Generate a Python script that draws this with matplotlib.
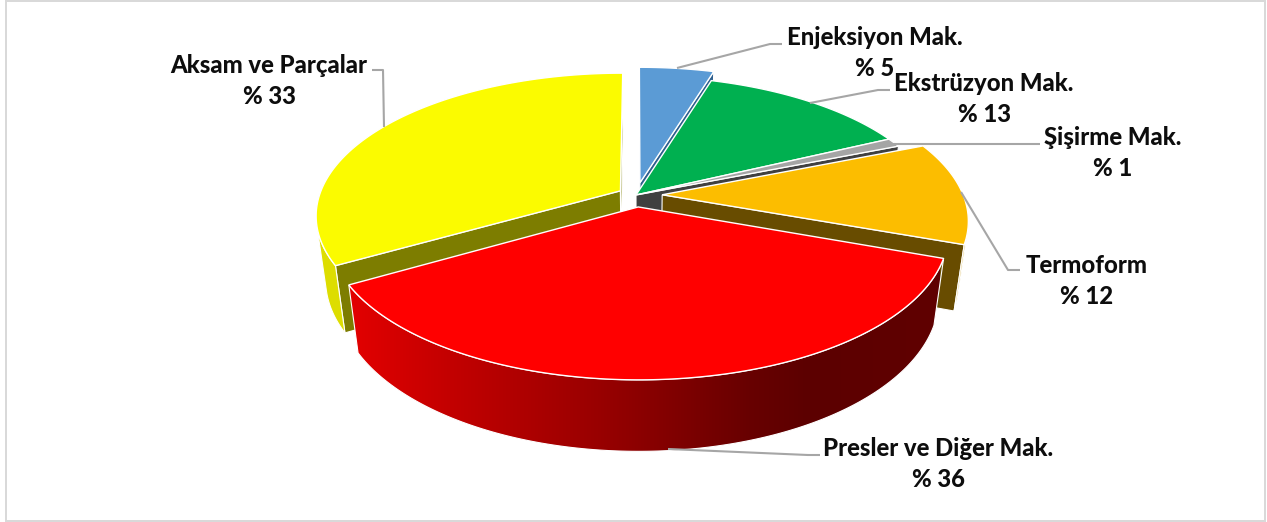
import numpy as np
import matplotlib
matplotlib.use("Agg")
import matplotlib.pyplot as plt
from matplotlib.patches import Polygon, Rectangle
from matplotlib.colors import LinearSegmentedColormap

names = ["Enjeksiyon Mak.", "Ekstrüzyon Mak.", "Şişirme Mak.", "Termoform", "Presler ve Diğer Mak.", "Aksam ve Parçalar"]
values = [4.7, 13.2, 1.0, 11.6, 36.2, 33.3]

top_colors = ["#5B9BD5", "#00B050", "#A5A5A5", "#FCBD00", "#FF0000", "#FBFB00"]
cut_colors = ["#2E5F8E", "#00682F", "#404040", "#684C00", "#7F0000", "#7D7D00"]
rim_colors = ["#4A80B2", "#009040", "#808080", "#C89600", None, "#DDDD00"]
explode = [0.09, 0.0, 0.0, 0.087, 0.085, 0.06]
draw_order = [0, 1, 2, 5, 3, 4]

CX, CY, RX, RY, K, HEIGHT, M = 636, 195, 301, 139, 0.17, 66, 0.03


def project(u, v, z):
    w = 1 - K * v + M * z
    return np.column_stack([CX + RX * u / w, CY + (RY * v + HEIGHT * z) / w])


def area(p):
    x, y = p[:, 0], p[:, 1]
    return 0.5 * np.sum(x * np.roll(y, -1) - np.roll(x, -1) * y)


plt.rcParams["font.family"] = ["Lato", "DejaVu Sans"]
fig = plt.figure(figsize=(12.67, 5.22), dpi=100)
ax = fig.add_axes([0, 0, 1, 1])
ax.set_xlim(0, 1267)
ax.set_ylim(522, 0)
ax.axis("off")
ax.add_patch(Rectangle((6, 1), 1259, 520, fc="white", ec="#D9D9D9", lw=1.44, zorder=0))

red_cmap = LinearSegmentedColormap.from_list(
    "red_wall",
    [(0, "#E40000"), (0.17, "#C40000"), (0.43, "#980000"), (0.68, "#680000"), (0.78, "#5C0000"), (1, "#600000")],
)

fractions = np.array(values, dtype=float) / sum(values)
edges = np.concatenate([[0], np.cumsum(fractions)]) * 2 * np.pi
z = 1
for i in draw_order:
    a0, a1 = edges[i], edges[i + 1]
    mid = (a0 + a1) / 2
    ou, ov = explode[i] * np.sin(mid), -explode[i] * np.cos(mid)
    th = np.linspace(a0, a1, 160)
    u, v = ou + np.sin(th), ov - np.cos(th)
    top = project(u, v, 0)
    bot = project(u, v, 1)
    apex_t = project(np.array([ou]), np.array([ov]), 0)
    apex_b = project(np.array([ou]), np.array([ov]), 1)

    # cut faces
    q0 = np.vstack([apex_t, top[:1], bot[:1], apex_b])
    q1 = np.vstack([apex_t, top[-1:], bot[-1:], apex_b])
    if area(q0) < 0:
        ax.add_patch(Polygon(q0, fc=cut_colors[i], ec="white", lw=0.8, zorder=z))
        z += 1
    if area(q1) > 0:
        ax.add_patch(Polygon(q1, fc=cut_colors[i], ec="white", lw=0.8, zorder=z))
        z += 1

    # outer wall: only segments that face the viewer
    facing = [
        area(np.vstack([top[j], top[j + 1], bot[j + 1], bot[j]])) < 0 for j in range(len(th) - 1)
    ]
    idx = np.nonzero(facing)[0]
    if len(idx):
        s, e = idx[0], idx[-1] + 2
        wall = np.vstack([top[s:e], bot[s:e][::-1]])
        if rim_colors[i] is None:
            patch = Polygon(wall, fc="none", ec="white", lw=0.8, zorder=z + 1)
            ax.add_patch(patch)
            clip = Polygon(wall, transform=ax.transData)
            im = ax.imshow(
                np.linspace(0, 1, 256)[None, :],
                cmap=red_cmap,
                extent=[345, 940, 460, 240],
                aspect="auto",
                zorder=z,
            )
            im.set_clip_path(clip)
            ax.set_xlim(0, 1267)
            ax.set_ylim(522, 0)
            z += 2
        else:
            ax.add_patch(Polygon(wall, fc=rim_colors[i], ec="white", lw=0.8, zorder=z))
            z += 1

    # top face
    ax.add_patch(Polygon(np.vstack([apex_t, top]), fc=top_colors[i], ec="white", lw=1.0, zorder=z))
    z += 1

leaders = [
    [(677, 68), (770, 44), (782, 44)],
    [(810, 103), (878, 90), (890, 90)],
    [(890, 144), (1040, 144)],
    [(961, 192), (1008, 270), (1020, 270)],
    [(668, 449), (808, 455), (820, 455)],
    [(384, 127), (383, 70), (372, 70)],
]
label_pos = [(875, 53), (984, 99), (1113, 153), (1087, 281), (938, 464), (269, 81)]

for pts, pos, name, val in zip(leaders, label_pos, names, values):
    xs, ys = zip(*pts)
    ax.plot(xs, ys, color="#A6A6A6", lw=1.5, zorder=z, solid_capstyle="butt")
    ax.text(pos[0], pos[1], f"{name}\n% {round(val)}", ha="center", va="center", fontsize=17.2,
            fontweight="black", color="#0D0D0D", linespacing=1.46, zorder=z + 1)

fig.savefig("out.png", dpi=100)
